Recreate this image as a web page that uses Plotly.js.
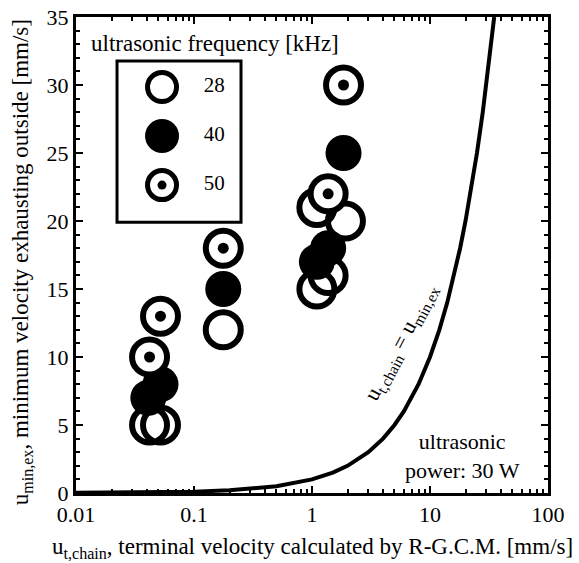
<!DOCTYPE html>
<html>
<head>
<meta charset="utf-8">
<script src="https://cdn.plot.ly/plotly-3.0.1.min.js"></script>
<style>html,body{margin:0;padding:0;background:#fff;}#chart{width:579px;height:563px;}</style>
</head>
<body>
<div id="chart"></div>
<script>
// Data
var open28_x = [0.042, 0.052, 0.177, 1.10, 1.37, 1.10, 1.92];
var open28_y = [5, 5, 12, 15, 16, 21, 20];
var fill40_x = [0.041, 0.052, 0.177, 1.10, 1.37, 1.85];
var fill40_y = [7, 8, 15, 17, 18, 25];
var dot50_x = [0.042, 0.052, 0.177, 1.37, 1.85];
var dot50_y = [10, 13, 18, 22, 30];
// reference line u_t,chain = u_min,ex
var lineVals = [0.01, 0.02, 0.05, 0.1, 0.2, 0.5, 1, 1.5, 2, 3, 4, 5, 6, 7, 8, 10, 12, 14, 16, 18, 20, 22, 25, 28, 31, 35];
var legendLabels = ['28', '40', '50'];
var xMinorTicks = [];
[0.01, 0.1, 1, 10].forEach(function (d) { for (var k = 2; k <= 9; k++) xMinorTicks.push(d * k); });

var serif = 'Liberation Serif, Times New Roman, serif';
var K = '#000';

var traces = [
  {x: lineVals, y: lineVals, mode: 'lines', line: {color: K, width: 4}, hoverinfo: 'skip', showlegend: false},
  {x: open28_x, y: open28_y, mode: 'markers', showlegend: false,
   marker: {size: 35, color: 'rgba(255,255,255,0)', line: {color: K, width: 6}}},
  {x: fill40_x, y: fill40_y, mode: 'markers', showlegend: false,
   marker: {size: 36, color: K, line: {width: 0}}},
  {x: dot50_x, y: dot50_y, mode: 'markers', showlegend: false,
   marker: {size: 35, color: '#fff', line: {color: K, width: 6}}},
  {x: dot50_x, y: dot50_y, mode: 'markers', showlegend: false,
   marker: {size: 11, color: K, line: {width: 0}}},
  // legend (drawn on its own small axes)
  {x: [0.363], y: [0], xaxis: 'x2', yaxis: 'y2', mode: 'markers', showlegend: false,
   marker: {size: 29, color: '#fff', line: {color: K, width: 5}}},
  {x: [0.363], y: [1], xaxis: 'x2', yaxis: 'y2', mode: 'markers', showlegend: false,
   marker: {size: 34, color: K, line: {width: 0}}},
  {x: [0.363], y: [2], xaxis: 'x2', yaxis: 'y2', mode: 'markers', showlegend: false,
   marker: {size: 29, color: '#fff', line: {color: K, width: 5}}},
  {x: [0.363], y: [2], xaxis: 'x2', yaxis: 'y2', mode: 'markers', showlegend: false,
   marker: {size: 9, color: K, line: {width: 0}}},
  {x: [0.7, 0.7, 0.7], y: [0, 1, 2], xaxis: 'x2', yaxis: 'y2', mode: 'text', showlegend: false,
   text: legendLabels, textposition: 'middle right', textfont: {family: serif, size: 21, color: K}}
];

var layout = {
  width: 579, height: 563,
  margin: {l: 76, r: 31, t: 17, b: 70},
  paper_bgcolor: '#fff', plot_bgcolor: '#fff',
  font: {family: serif, size: 22, color: K},
  xaxis: {
    type: 'log', range: [-2, 2], showgrid: false, zeroline: false,
    showline: true, linecolor: K, linewidth: 3, mirror: 'ticks',
    ticks: 'inside', ticklen: 7, tickwidth: 2, tickcolor: K,
    tickvals: [0.01, 0.1, 1, 10, 100], ticktext: ['0.01', '0.1', '1', '10', '100'],
    tickfont: {family: serif, size: 22, color: K},
    minor: {tickvals: xMinorTicks, ticks: 'inside', ticklen: 4, tickwidth: 2, tickcolor: K, showgrid: false}
  },
  yaxis: {
    range: [0, 35], showgrid: false, zeroline: false,
    showline: true, linecolor: K, linewidth: 3, mirror: 'ticks',
    ticks: 'inside', ticklen: 7, tickwidth: 2, tickcolor: K,
    tickvals: [0, 5, 10, 15, 20, 25, 30, 35],
    tickfont: {family: serif, size: 22, color: K},
    minor: {dtick: 1, ticks: 'inside', ticklen: 4, tickwidth: 2, tickcolor: K, showgrid: false}
  },
  xaxis2: {domain: [0.0869, 0.3496], range: [0, 1], anchor: 'y2', visible: false, fixedrange: true},
  yaxis2: {domain: [0.569, 0.9076], range: [2.755, -0.53], anchor: 'x2', visible: false, fixedrange: true},
  shapes: [
    {type: 'rect', xref: 'x2 domain', yref: 'y2 domain', x0: 0, x1: 1, y0: 0, y1: 1,
     line: {color: K, width: 3}, fillcolor: 'rgba(0,0,0,0)'}
  ],
  annotations: [
    {text: 'ultrasonic frequency [kHz]', xref: 'paper', yref: 'paper', x: 0.0275, y: 0.945,
     xanchor: 'left', yanchor: 'middle', showarrow: false, font: {family: serif, size: 23, color: K}},
    {text: 'u<sub>t,chain</sub>, terminal velocity calculated by R-G.C.M. [mm/s]', xref: 'paper', yref: 'paper',
     x: 0.5, y: -0.1155, xanchor: 'center', yanchor: 'middle', showarrow: false, font: {family: serif, size: 23, color: K}},
    {text: 'u<sub>min,ex</sub>, minimum velocity exhausting outside [mm/s]', xref: 'paper', yref: 'paper',
     x: -0.114, y: 0.485, xanchor: 'center', yanchor: 'middle', textangle: -90, showarrow: false, font: {family: serif, size: 23, color: K}},
    {text: 'u<sub>t,chain</sub> = u<sub>min,ex</sub>', xref: 'paper', yref: 'paper', x: (401 - 76) / 472, y: (493 - 343) / 476,
     xanchor: 'center', yanchor: 'middle', textangle: -62, showarrow: false, font: {family: serif, size: 22, color: K}},
    {text: 'ultrasonic<br>power: 30 W', xref: 'paper', yref: 'paper', x: (462 - 76) / 472, y: (493 - 456) / 476,
     xanchor: 'center', yanchor: 'middle', align: 'center', showarrow: false, font: {family: serif, size: 22, color: K}}
  ]
};

Plotly.newPlot('chart', traces, layout, {displayModeBar: false, staticPlot: true});
</script>
</body>
</html>
